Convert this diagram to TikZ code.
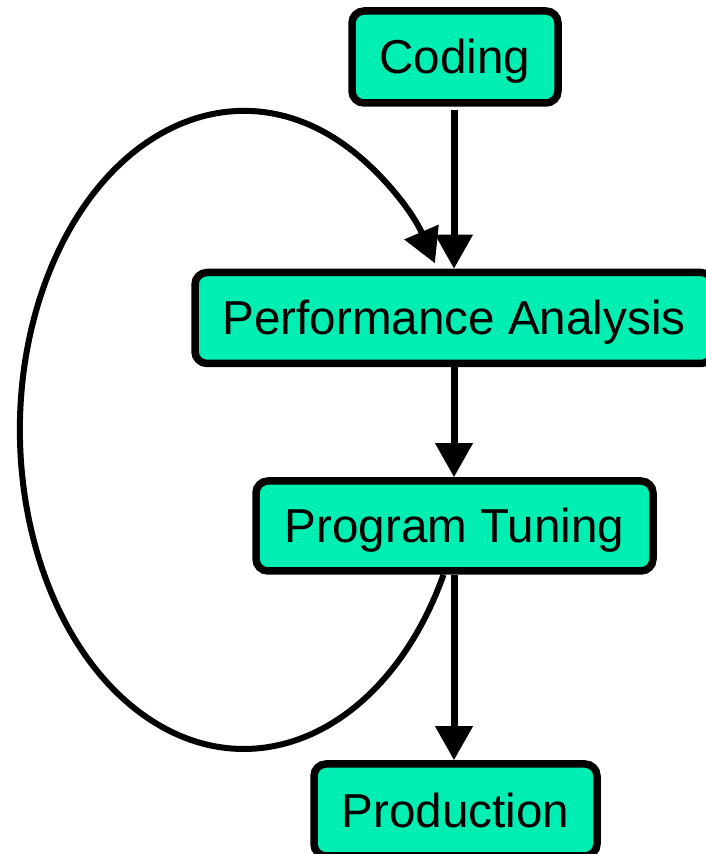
\documentclass[tikz,border=0pt]{standalone}
\usepackage{fontspec}
\setmainfont{Liberation Sans}
\usetikzlibrary{arrows.meta}
\definecolor{stagefill}{RGB}{0,238,178}
\begin{document}
\begin{tikzpicture}[x=1pt,y=1pt,
  stagebox/.style={draw=black, line width=7.5pt, fill=stagefill, rounded corners=12pt,
    inner sep=0pt, text height=34pt, text depth=0pt,
    font=\fontsize{47.6}{56}\selectfont},
  flowarrow/.style={line width=7pt, -{Triangle[length=34pt,width=36pt]}},
  looparrow/.style={line width=6pt, -{Triangle[length=34pt,width=36pt]}}]
\useasboundingbox (0,0) rectangle (706,854);
% the four stages
\node[stagebox, minimum width=206pt, minimum height=92pt] (coding) at (455,797) {Coding};
\node[stagebox, minimum width=518pt, minimum height=91pt] (analysis) at (454,536) {Performance Analysis};
\node[stagebox, minimum width=397pt, minimum height=90pt] (tuning) at (454.5,328) {Program Tuning};
\node[stagebox, minimum width=283pt, minimum height=92pt] (production) at (455.5,44) {Production};
% straight flow
\draw[flowarrow] ([xshift=-1pt,yshift=-3pt]coding.south) -- ([xshift=-1pt]coding.south |- analysis.north);
\draw[flowarrow] (analysis.south) -- (analysis.south |- tuning.north);
\draw[flowarrow] ([xshift=-0.5pt]tuning.south) -- ([xshift=-0.5pt]tuning.south |- production.north);
% feedback loop from tuning back to analysis
\coordinate (loopstart) at ([xshift=-11pt]tuning.south);
\draw[looparrow] (loopstart) arc[start angle=-27, end angle=-328.5, x radius=224, y radius=319];
\end{tikzpicture}
\end{document}
